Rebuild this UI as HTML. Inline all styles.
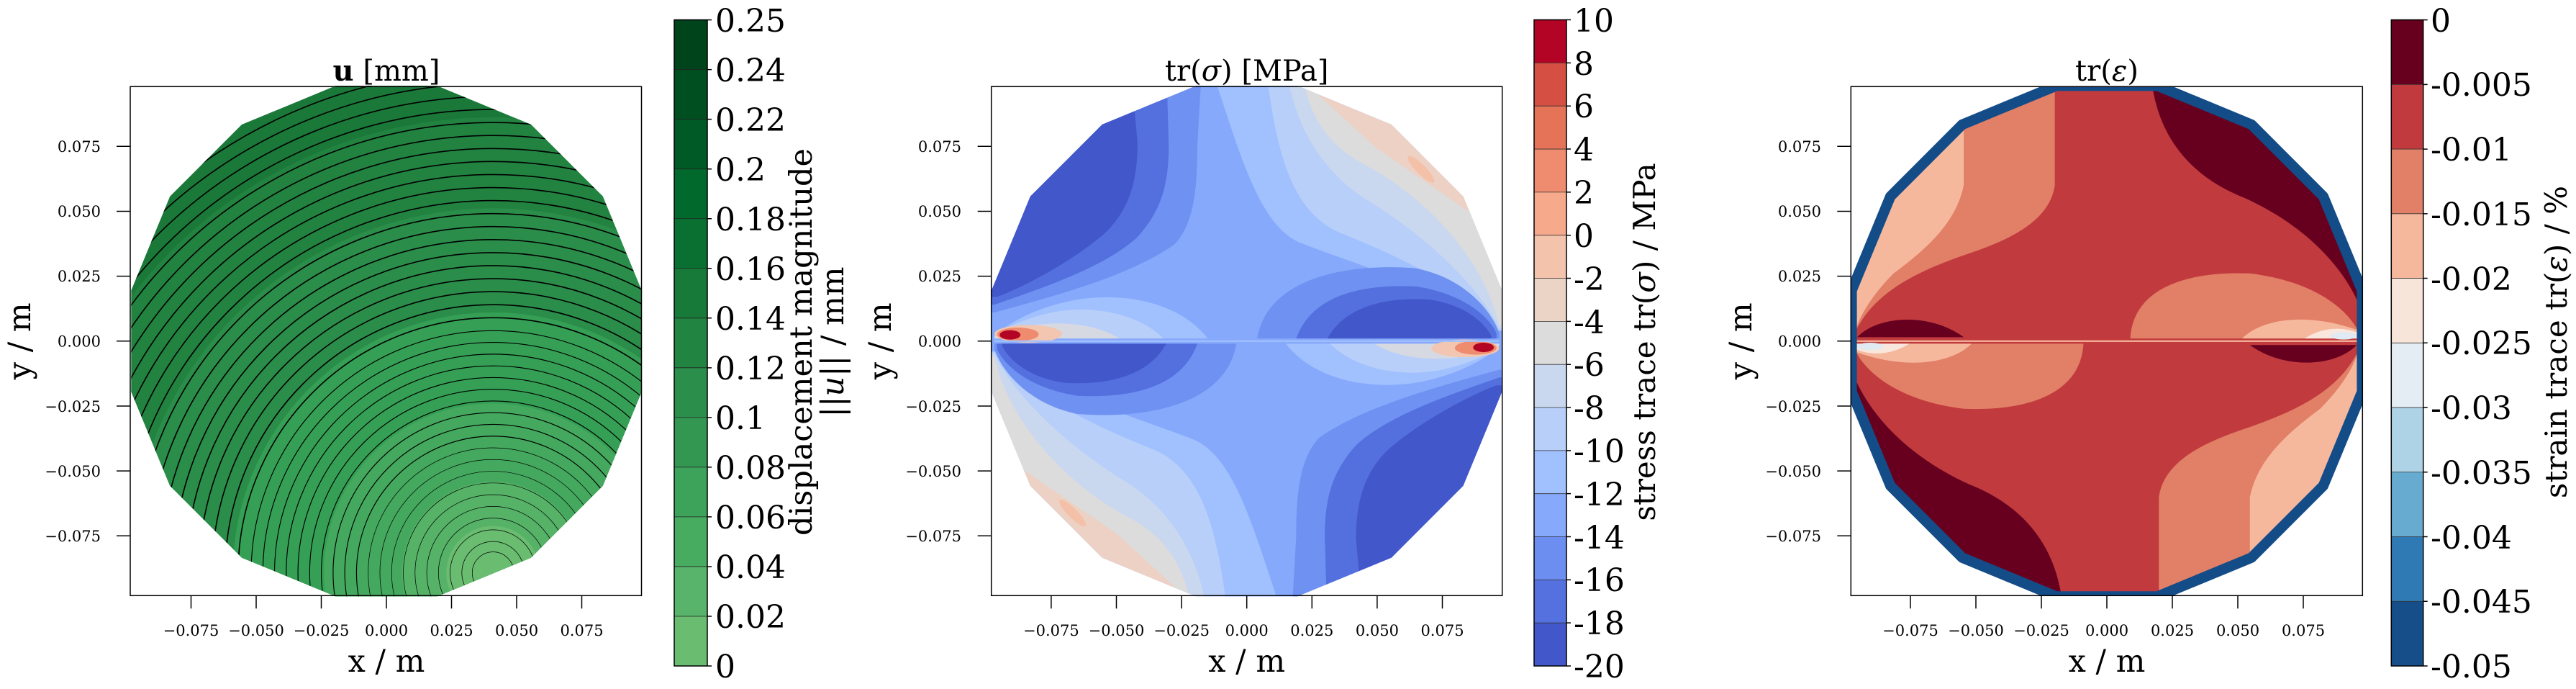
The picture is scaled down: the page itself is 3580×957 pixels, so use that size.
<!DOCTYPE html>
<html><head><meta charset="utf-8"><style>
html,body{margin:0;padding:0;background:#fff;overflow:hidden;width:3580px;height:957px;}
svg{display:block;font-family:"DejaVu Serif","Liberation Serif",serif;}
</style></head><body>
<svg width="3580" height="957" viewBox="0 0 3580 957" xmlns="http://www.w3.org/2000/svg">
<defs>
<clipPath id="poly"><polygon points="98.1,19.5 83.2,55.6 55.6,83.2 19.5,98.1 -19.5,98.1 -55.6,83.2 -83.2,55.6 -98.1,19.5 -98.1,-19.5 -83.2,-55.6 -55.6,-83.2 -19.5,-98.1 19.5,-98.1 55.6,-83.2 83.2,-55.6 98.1,-19.5"/></clipPath>
<clipPath id="axr"><rect x="-98.3" y="-97.8" width="196.6" height="195.6"/></clipPath>
<g id="half2">
 <path fill="#6f91f2" d="M-110,11 L-97,11 C-75,17 -45,25 -28,37 C-20,45 -19,60 -19,75 L-17,110 L-110,110 Z"/>
 <path fill="#5470de" d="M-110,14 L-97,14 C-80,20 -55,28 -42,40 C-33,50 -30,60 -30,75 L-31,110 L-110,110 Z"/>
 <path fill="#4257ca" d="M-110,17 L-96,17 C-85,21 -65,32 -54,42 C-46,50 -42,60 -42,76 L-45,110 L-110,110 Z"/>
 <path fill="#a1c0fe" d="M-97,-4 C-70,-22 -40,-30 -20,-38 C-5,-45 2,-70 12,-100 L12,-110 L-110,-110 L-110,-4 Z"/>
 <path fill="#b8cff9" d="M-97,-4 C-85,-20 -60,-32 -35,-42 C-18,-50 -12,-70 -8,-100 L-8,-110 L-110,-110 L-110,-4 Z"/>
 <path fill="#cad8ef" d="M-97,-5 C-90,-20 -70,-40 -45,-55 C-30,-65 -20,-80 -16,-100 L-16,-110 L-110,-110 L-110,-5 Z"/>
 <path fill="#dcdcdc" d="M-97,-6 C-92,-30 -70,-55 -45,-68 C-30,-76 -24,-88 -22,-100 L-22,-110 L-110,-110 L-110,-6 Z"/>
 <path fill="#ecd1c4" d="M-85,-50 L-50,-74 L-26,-96 L-26,-110 L-110,-110 L-110,-50 Z"/>
 <ellipse cx="-67" cy="-66" rx="7" ry="1.8" transform="rotate(-45 -67 -66)" fill="#f4c0a8"/>
 <path fill="#6f91f2" d="M-97,-1 L-4,-1 C-8,-25 -40,-30 -65,-28 C-85,-24 -95,-10 -97,-3 Z"/>
 <path fill="#5470de" d="M-96,-1 L-19,-1 C-25,-18 -45,-22 -65,-21 C-85,-18 -94,-8 -96,-3 Z"/>
 <path fill="#4257ca" d="M-94,-1 L-31,-1 C-38,-14 -55,-17 -70,-16 C-85,-14 -92,-6 -94,-2 Z"/>
 <path fill="#a1c0fe" d="M-97,1 L-15,1 C-25,14 -45,19 -65,16 C-82,13 -93,6 -97,2 Z"/>
 <path fill="#b8cff9" d="M-97,1 L-32,1 C-42,11 -60,14 -75,11 C-88,8 -95,4 -97,2 Z"/>
 <path fill="#d6d9e2" d="M-97,1 L-49,1 C-60,8 -80,9 -97,2 Z"/>
 <ellipse cx="-84" cy="2.8" rx="13" ry="3.4" fill="#f2c6b0"/>
 <ellipse cx="-88" cy="2.6" rx="8" ry="2.6" fill="#ef8b6e"/>
 <ellipse cx="-91" cy="2.4" rx="4" ry="1.8" fill="#b40426"/>
</g>
<g id="half3">
 <path fill="#67001f" d="M15,110 L18,95 C22,75 35,62 53,55 C75,45 90,30 97,14 L110,14 L110,110 Z"/>
 <path fill="#e27f67" d="M-20,110 L-20,60 C-22,45 -40,38 -55,33 C-75,26 -90,18 -97,3 L-110,3 L-110,110 Z"/>
 <path fill="#f6b89d" d="M-55,110 L-55,60 C-58,45 -70,35 -82,26 C-90,18 -95,10 -97,3 L-110,3 L-110,110 Z"/>
 <path fill="#67001f" d="M-96,1.5 C-88,10 -68,11 -55,1.5 Z"/>
 <path fill="#e27f67" d="M-97,-1 L-9,-1 C-10,-20 -30,-27 -55,-26 C-80,-23 -93,-12 -97,-3 Z"/>
 <path fill="#f6b89d" d="M-97,-1 L-52,-1 C-60,-9 -78,-11 -97,-4 Z"/>
 <path fill="#f9e6dc" d="M-97,-1 L-76,-1 C-82,-5 -90,-6 -97,-3 Z"/>
 <ellipse cx="-91" cy="-2" rx="5" ry="1.4" fill="#dfeaf3"/>
</g>
</defs>

<!-- ===== PANEL 1 ===== -->
<g transform="translate(537,473.8) scale(3.615,-3.615)">
 <g clip-path="url(#poly)">
  <rect x="-110" y="-110" width="220" height="220" fill="#1a7838"/>
  <circle cx="41" cy="-89" r="175" fill="#228240"/>
  <circle cx="41" cy="-89" r="140" fill="#2b8d4a"/>
  <circle cx="41" cy="-89" r="100" fill="#35a055"/>
  <circle cx="41" cy="-89" r="65" fill="#44a95e"/>
  <circle cx="41" cy="-89" r="35" fill="#55b267"/>
  <circle cx="41" cy="-89" r="18" fill="#69bc70"/>
  <g fill="none" stroke="#000">
   <g stroke-width="0.2">
    <circle cx="41" cy="-89" r="8"/><circle cx="41" cy="-89" r="12"/><circle cx="41" cy="-89" r="16.5"/><circle cx="41" cy="-89" r="21"/><circle cx="41" cy="-89" r="25.5"/><circle cx="41" cy="-89" r="30"/><circle cx="41" cy="-89" r="34.5"/><circle cx="41" cy="-89" r="39"/><circle cx="41" cy="-89" r="43.5"/><circle cx="41" cy="-89" r="48"/>
   </g>
   <g stroke-width="0.32">
    <circle cx="41" cy="-89" r="52.5"/><circle cx="41" cy="-89" r="57"/><circle cx="41" cy="-89" r="61.5"/><circle cx="41" cy="-89" r="66"/><circle cx="41" cy="-89" r="70.5"/><circle cx="41" cy="-89" r="75"/><circle cx="41" cy="-89" r="79.5"/><circle cx="41" cy="-89" r="84"/><circle cx="41" cy="-89" r="88.5"/><circle cx="41" cy="-89" r="93"/>
   </g>
   <g stroke-width="0.45">
    <circle cx="41" cy="-89" r="98"/><circle cx="41" cy="-89" r="103"/><circle cx="41" cy="-89" r="108"/><circle cx="41" cy="-89" r="113"/><circle cx="41" cy="-89" r="118"/><circle cx="41" cy="-89" r="123"/><circle cx="41" cy="-89" r="128"/><circle cx="41" cy="-89" r="133"/><circle cx="41" cy="-89" r="138"/><circle cx="41" cy="-89" r="143"/><circle cx="41" cy="-89" r="148"/><circle cx="41" cy="-89" r="153"/><circle cx="41" cy="-89" r="158"/><circle cx="41" cy="-89" r="163"/><circle cx="41" cy="-89" r="168"/><circle cx="41" cy="-89" r="173"/><circle cx="41" cy="-89" r="178"/><circle cx="41" cy="-89" r="183"/><circle cx="41" cy="-89" r="188"/><circle cx="41" cy="-89" r="193"/>
   </g>
  </g>
 </g>
</g>

<!-- ===== PANEL 2 ===== -->
<g transform="translate(1732.7,473.8) scale(3.615,-3.615)">
 <g clip-path="url(#poly)">
  <rect x="-110" y="-110" width="220" height="220" fill="#86a9fc"/>
  <use href="#half2"/>
  <use href="#half2" transform="rotate(180)"/>
  <line x1="-97" y1="0" x2="97" y2="0" stroke="#a1c0fe" stroke-width="0.6"/>
 </g>
</g>

<!-- ===== PANEL 3 ===== -->
<g transform="translate(2928,473.8) scale(3.615,-3.615)">
 <g clip-path="url(#axr)">
  <g clip-path="url(#poly)">
   <rect x="-110" y="-110" width="220" height="220" fill="#c13b3e"/>
   <use href="#half3"/>
   <use href="#half3" transform="rotate(180)"/>
   <line x1="-97" y1="0" x2="97" y2="0" stroke="#f6b89d" stroke-width="0.6"/>
  </g>
  <polygon points="98.1,19.5 83.2,55.6 55.6,83.2 19.5,98.1 -19.5,98.1 -55.6,83.2 -83.2,55.6 -98.1,19.5 -98.1,-19.5 -83.2,-55.6 -55.6,-83.2 -19.5,-98.1 19.5,-98.1 55.6,-83.2 83.2,-55.6 98.1,-19.5" fill="none" stroke="#134c87" stroke-width="4" stroke-linejoin="round"/>
 </g>
</g>

<!-- ===== AXES FRAMES + TICKS ===== -->
<g fill="none" stroke="#000" stroke-width="1.5">
 <rect x="181" y="120.3" width="710.5" height="707"/>
 <rect x="1377.7" y="120.3" width="710" height="707"/>
 <rect x="2572.3" y="120.3" width="711" height="707"/>
 <path d="M265.5,827.3v18 M356,827.3v18 M446.5,827.3v18 M537,827.3v18 M627.5,827.3v18 M718,827.3v18 M808.5,827.3v18
          M1460.9,827.3v18 M1551.5,827.3v18 M1642.1,827.3v18 M1732.7,827.3v18 M1823.3,827.3v18 M1913.9,827.3v18 M2004.5,827.3v18
          M2655,827.3v18 M2746,827.3v18 M2837,827.3v18 M2928,827.3v18 M3019,827.3v18 M3110,827.3v18 M3201,827.3v18"/>
 <path d="M162,203.3h19 M162,293.5h19 M162,383.6h19 M162,473.8h19 M162,564h19 M162,654.1h19 M162,744.3h19
          M1358.7,203.3h19 M1358.7,293.5h19 M1358.7,383.6h19 M1358.7,473.8h19 M1358.7,564h19 M1358.7,654.1h19 M1358.7,744.3h19
          M2553.3,203.3h19 M2553.3,293.5h19 M2553.3,383.6h19 M2553.3,473.8h19 M2553.3,564h19 M2553.3,654.1h19 M2553.3,744.3h19"/>
</g>

<!-- tick labels -->
<g font-size="21" fill="#000" text-anchor="middle">
 <text x="265.5" y="883">−0.075</text><text x="356" y="883">−0.050</text><text x="446.5" y="883">−0.025</text><text x="537" y="883">0.000</text><text x="627.5" y="883">0.025</text><text x="718" y="883">0.050</text><text x="808.5" y="883">0.075</text>
 <text x="1460.9" y="883">−0.075</text><text x="1551.5" y="883">−0.050</text><text x="1642.1" y="883">−0.025</text><text x="1732.7" y="883">0.000</text><text x="1823.3" y="883">0.025</text><text x="1913.9" y="883">0.050</text><text x="2004.5" y="883">0.075</text>
 <text x="2655" y="883">−0.075</text><text x="2746" y="883">−0.050</text><text x="2837" y="883">−0.025</text><text x="2928" y="883">0.000</text><text x="3019" y="883">0.025</text><text x="3110" y="883">0.050</text><text x="3201" y="883">0.075</text>
</g>
<g font-size="21" fill="#000" text-anchor="end">
 <text x="140" y="211">0.075</text><text x="140" y="301">0.050</text><text x="140" y="391">0.025</text><text x="140" y="481.5">0.000</text><text x="140" y="572">−0.025</text><text x="140" y="662">−0.050</text><text x="140" y="752">−0.075</text>
 <text x="1336" y="211">0.075</text><text x="1336" y="301">0.050</text><text x="1336" y="391">0.025</text><text x="1336" y="481.5">0.000</text><text x="1336" y="572">−0.025</text><text x="1336" y="662">−0.050</text><text x="1336" y="752">−0.075</text>
 <text x="2531" y="211">0.075</text><text x="2531" y="301">0.050</text><text x="2531" y="391">0.025</text><text x="2531" y="481.5">0.000</text><text x="2531" y="572">−0.025</text><text x="2531" y="662">−0.050</text><text x="2531" y="752">−0.075</text>
</g>

<!-- axis labels & titles -->
<g font-size="43" fill="#000" text-anchor="middle">
 <text x="537" y="933">x / m</text>
 <text x="1732.7" y="933">x / m</text>
 <text x="2928" y="933">x / m</text>
 <text transform="translate(42,473.8) rotate(-90)">y / m</text>
 <text transform="translate(1238,473.8) rotate(-90)">y / m</text>
 <text transform="translate(2434,473.8) rotate(-90)">y / m</text>
</g>
<g font-size="40" fill="#000" text-anchor="middle">
 <text x="537" y="112"><tspan font-weight="bold">u</tspan> [mm]</text>
 <text x="1732.7" y="112">tr(<tspan font-style="italic">σ</tspan>) [MPa]</text>
 <text x="2928" y="112">tr(<tspan font-style="italic">ε</tspan>)</text>
</g>

<!-- ===== COLORBAR 1 ===== -->
<g>
 <rect x="937" y="855.97" width="46" height="69.03" fill="#6abc71"/>
 <rect x="937" y="786.94" width="46" height="69.03" fill="#58b46a"/>
 <rect x="937" y="717.91" width="46" height="69.03" fill="#47ab60"/>
 <rect x="937" y="648.88" width="46" height="69.03" fill="#3da35a"/>
 <rect x="937" y="579.85" width="46" height="69.03" fill="#339752"/>
 <rect x="937" y="510.82" width="46" height="69.03" fill="#2b8e4a"/>
 <rect x="937" y="441.79" width="46" height="69.03" fill="#228441"/>
 <rect x="937" y="372.76" width="46" height="69.03" fill="#187a38"/>
 <rect x="937" y="303.73" width="46" height="69.03" fill="#0a7031"/>
 <rect x="937" y="234.70" width="46" height="69.03" fill="#00692b"/>
 <rect x="937" y="165.67" width="46" height="69.03" fill="#005a26"/>
 <rect x="937" y="96.64" width="46" height="69.03" fill="#004f21"/>
 <rect x="937" y="27.6" width="46" height="69.04" fill="#00441b"/>
 <path stroke="#222" stroke-width="0.8" d="M937,855.97h46 M937,786.94h46 M937,717.91h46 M937,648.88h46 M937,579.85h46 M937,510.82h46 M937,441.79h46 M937,372.76h46 M937,303.73h46 M937,234.7h46 M937,165.67h46 M937,96.64h46"/>
 <rect x="937" y="27.6" width="46" height="897.4" fill="none" stroke="#000" stroke-width="1.5"/>
 <path stroke="#000" stroke-width="1.5" d="M983,925h6 M983,855.97h6 M983,786.94h6 M983,717.91h6 M983,648.88h6 M983,579.85h6 M983,510.82h6 M983,441.79h6 M983,372.76h6 M983,303.73h6 M983,234.7h6 M983,165.67h6 M983,96.64h6 M983,27.6h6"/>
 <g font-size="44" fill="#000">
  <text x="994" y="941">0</text><text x="994" y="872">0.02</text><text x="994" y="803">0.04</text><text x="994" y="734">0.06</text><text x="994" y="665">0.08</text><text x="994" y="596">0.1</text><text x="994" y="527">0.12</text><text x="994" y="458">0.14</text><text x="994" y="389">0.16</text><text x="994" y="320">0.18</text><text x="994" y="251">0.2</text><text x="994" y="182">0.22</text><text x="994" y="113">0.24</text><text x="994" y="44">0.25</text>
 </g>
 <g font-size="43" fill="#000" text-anchor="middle">
  <text transform="translate(1128,475) rotate(-90)">displacement magnitude</text>
  <text transform="translate(1172,475) rotate(-90)">||<tspan font-style="italic">u</tspan>|| / mm</text>
 </g>
</g>

<!-- ===== COLORBAR 2 ===== -->
<g>
 <rect x="2132" y="865.17" width="45" height="59.83" fill="#4257ca"/>
 <rect x="2132" y="805.34" width="45" height="59.83" fill="#5571df"/>
 <rect x="2132" y="745.51" width="45" height="59.83" fill="#6b8ef0"/>
 <rect x="2132" y="685.68" width="45" height="59.83" fill="#86a9fc"/>
 <rect x="2132" y="625.85" width="45" height="59.83" fill="#a1c0fe"/>
 <rect x="2132" y="566.02" width="45" height="59.83" fill="#b8cff9"/>
 <rect x="2132" y="506.19" width="45" height="59.83" fill="#cad8ef"/>
 <rect x="2132" y="446.36" width="45" height="59.83" fill="#dcdcdc"/>
 <rect x="2132" y="386.53" width="45" height="59.83" fill="#ebd3c6"/>
 <rect x="2132" y="326.70" width="45" height="59.83" fill="#f4c3ab"/>
 <rect x="2132" y="266.87" width="45" height="59.83" fill="#f6a98b"/>
 <rect x="2132" y="207.04" width="45" height="59.83" fill="#ef8b6e"/>
 <rect x="2132" y="147.21" width="45" height="59.83" fill="#e57358"/>
 <rect x="2132" y="87.38" width="45" height="59.83" fill="#d55042"/>
 <rect x="2132" y="27.55" width="45" height="59.83" fill="#b40426"/>
 <path stroke="#333" stroke-width="0.8" d="M2132,865.17h45 M2132,805.34h45 M2132,745.51h45 M2132,685.68h45 M2132,625.85h45 M2132,566.02h45 M2132,506.19h45 M2132,446.36h45 M2132,386.53h45 M2132,326.7h45 M2132,266.87h45 M2132,207.04h45 M2132,147.21h45 M2132,87.38h45"/>
 <rect x="2132" y="27.55" width="45" height="897.45" fill="none" stroke="#000" stroke-width="1.5"/>
 <path stroke="#000" stroke-width="1.5" d="M2177,925h6 M2177,865.17h6 M2177,805.34h6 M2177,745.51h6 M2177,685.68h6 M2177,625.85h6 M2177,566.02h6 M2177,506.19h6 M2177,446.36h6 M2177,386.53h6 M2177,326.7h6 M2177,266.87h6 M2177,207.04h6 M2177,147.21h6 M2177,87.38h6 M2177,27.55h6"/>
 <g font-size="44" fill="#000">
  <text x="2187" y="941">-20</text><text x="2187" y="881">-18</text><text x="2187" y="821">-16</text><text x="2187" y="762">-14</text><text x="2187" y="702">-12</text><text x="2187" y="642">-10</text><text x="2187" y="582">-8</text><text x="2187" y="522">-6</text><text x="2187" y="463">-4</text><text x="2187" y="403">-2</text><text x="2187" y="343">0</text><text x="2187" y="283">2</text><text x="2187" y="223">4</text><text x="2187" y="163">6</text><text x="2187" y="104">8</text><text x="2187" y="44">10</text>
 </g>
 <text font-size="42" fill="#000" text-anchor="middle" transform="translate(2300,475) rotate(-90)">stress trace tr(<tspan font-style="italic">σ</tspan>) / MPa</text>
</g>

<!-- ===== COLORBAR 3 ===== -->
<g>
 <rect x="3323.3" y="835.26" width="44.4" height="89.74" fill="#164e8a"/>
 <rect x="3323.3" y="745.52" width="44.4" height="89.74" fill="#2f79b5"/>
 <rect x="3323.3" y="655.78" width="44.4" height="89.74" fill="#68abd0"/>
 <rect x="3323.3" y="566.04" width="44.4" height="89.74" fill="#afd3e6"/>
 <rect x="3323.3" y="476.30" width="44.4" height="89.74" fill="#e3edf3"/>
 <rect x="3323.3" y="386.56" width="44.4" height="89.74" fill="#f8e5da"/>
 <rect x="3323.3" y="296.82" width="44.4" height="89.74" fill="#f6b89d"/>
 <rect x="3323.3" y="207.08" width="44.4" height="89.74" fill="#e27f67"/>
 <rect x="3323.3" y="117.34" width="44.4" height="89.74" fill="#c13b3e"/>
 <rect x="3323.3" y="27.6" width="44.4" height="89.74" fill="#67001f"/>
 <path stroke="#333" stroke-width="0.8" d="M3323.3,835.26h44.4 M3323.3,745.52h44.4 M3323.3,655.78h44.4 M3323.3,566.04h44.4 M3323.3,476.3h44.4 M3323.3,386.56h44.4 M3323.3,296.82h44.4 M3323.3,207.08h44.4 M3323.3,117.34h44.4"/>
 <rect x="3323.3" y="27.6" width="44.4" height="897.4" fill="none" stroke="#000" stroke-width="1.5"/>
 <path stroke="#000" stroke-width="1.5" d="M3367.7,925h6 M3367.7,835.26h6 M3367.7,745.52h6 M3367.7,655.78h6 M3367.7,566.04h6 M3367.7,476.3h6 M3367.7,386.56h6 M3367.7,296.82h6 M3367.7,207.08h6 M3367.7,117.34h6 M3367.7,27.6h6"/>
 <g font-size="44" fill="#000">
  <text x="3378" y="941">-0.05</text><text x="3378" y="851">-0.045</text><text x="3378" y="762">-0.04</text><text x="3378" y="672">-0.035</text><text x="3378" y="582">-0.03</text><text x="3378" y="492">-0.025</text><text x="3378" y="403">-0.02</text><text x="3378" y="313">-0.015</text><text x="3378" y="223">-0.01</text><text x="3378" y="133">-0.005</text><text x="3378" y="44">0</text>
 </g>
 <text font-size="42" fill="#000" text-anchor="middle" transform="translate(3567,475) rotate(-90)">strain trace tr(<tspan font-style="italic">ε</tspan>) / %</text>
</g>
</svg>
</body></html>
